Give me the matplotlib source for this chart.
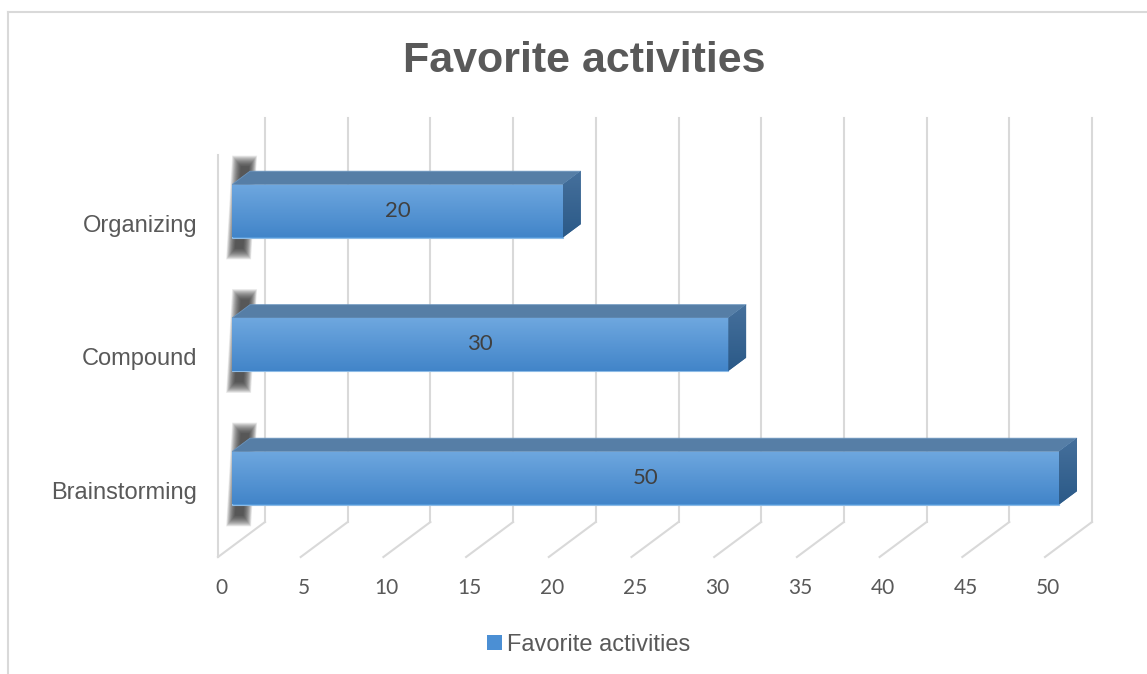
import numpy as np
import matplotlib.pyplot as plt
from matplotlib.patches import Polygon, Patch
from matplotlib.lines import Line2D
from matplotlib.colors import LinearSegmentedColormap

# Data
categories = ['Brainstorming', 'Compound', 'Organizing']
values = [50, 30, 20]
ticks = list(range(0, 55, 5))
series_name = 'Favorite activities'
title = 'Favorite activities'

W, H = 1147, 674
fig = plt.figure(figsize=(W / 100, H / 100), dpi=100)
ax = fig.add_axes([0, 0, 1, 1])
ax.set_axis_off()

# scale: pixels per value unit / per category, origin of the front floor
px_x = 16.54
px_y = 133.5
x0_px, y0_px = 218, 488.5
xlim = (-x0_px / px_x, (W - x0_px) / px_x)
ylim = ((y0_px - H) / px_y, y0_px / px_y)

# depth of the 3D box, in data units
depth_x = 47 / px_x
depth_y = 35 / px_y
floor_y = -(557 - y0_px) / px_y      # front edge of the floor
wall_top = (y0_px - 118) / px_y      # top of the back wall
side_top = (y0_px - 155) / px_y      # top of the left wall

grid_col = '#d9d9d9'
text_col = '#595959'

# back wall gridlines + floor diagonals
for t in ticks:
    ax.plot([t + depth_x, t + depth_x], [floor_y + depth_y, wall_top], color=grid_col, lw=1.5, zorder=1)
    ax.plot([t, t + depth_x], [floor_y, floor_y + depth_y], color=grid_col, lw=1.5, zorder=1)
    ax.text(t + 0.2, floor_y - 0.23, str(t), ha='center', va='center', fontsize=15,
            family='Lato', color=text_col)
# left wall front edge
ax.plot([0, 0], [floor_y, side_top], color=grid_col, lw=1.5, zorder=1)


def gradient_fill(patch, c_top, c_bot, extent, z):
    grad = np.linspace(0, 1, 64).reshape(-1, 1)
    cmap = LinearSegmentedColormap.from_list('g', [c_top, c_bot])
    im = ax.imshow(grad, cmap=cmap, extent=extent, aspect='auto', origin='upper',
                   zorder=z, interpolation='bicubic')
    im.set_clip_path(patch)


def shadow(left, bottom, top):
    # soft shadow behind the left end of a bar: stacked translucent layers
    hgt = (top - bottom) * px_y
    n = 22
    for k in range(n):
        f = k / (n - 1)
        u0 = -6 + 9 * f
        u1 = 19 - 8 * f
        y0 = -22 + 11 * f
        y1 = hgt + 29 - 11 * f
        pts = [(u0, y0), (u1, y0), (u1 + 6, y1), (u0 + 6, y1)]
        pts = [(left + a / px_x, bottom + c / px_y) for a, c in pts]
        ax.add_patch(Polygon(pts, closed=True, facecolor='#2e2e2e', edgecolor='none',
                             alpha=0.065, zorder=2))


# bars
bar_h = 53 / px_y
front_dx, front_dy = 0.30 * depth_x, 0.30 * depth_y
top_dx, top_dy = 0.38 * depth_x, 0.38 * depth_y
y_pos = np.arange(len(categories))

bars = ax.barh(y_pos + front_dy, values, height=bar_h, left=front_dx,
               color='#5096d8', edgecolor='#8dbbe6', linewidth=0.8, zorder=4)

for rect, v, i in zip(bars, values, y_pos):
    l, b = rect.get_x(), rect.get_y()
    w, h = rect.get_width(), rect.get_height()
    r, t = l + w, b + h
    shadow(l, b, t)
    gradient_fill(rect, '#6ea7df', '#4285c9', (l, r, b, t), 4.5)
    top_face = Polygon([(l, t), (l + top_dx, t + top_dy), (r + top_dx, t + top_dy), (r, t)],
                       closed=True, facecolor='#567ea6', edgecolor='#6b95bf', lw=0.6, zorder=4)
    ax.add_patch(top_face)
    side = Polygon([(r, b), (r, t), (r + top_dx, t + top_dy), (r + top_dx, b + top_dy)],
                   closed=True, facecolor='#3a6794', edgecolor='none', zorder=4)
    ax.add_patch(side)
    gradient_fill(side, '#46709c', '#2b5a88', (r, r + top_dx, b, t + top_dy), 4.6)
    ax.text(l + w / 2, b + h / 2, str(v), ha='center', va='center', fontsize=16,
            family='Lato', color='#404040', zorder=6)
    ax.text(-21 / px_x, i - 0.03, categories[i], ha='right', va='center', fontsize=17,
            family='Liberation Sans', color=text_col)

ax.set_xlim(*xlim)
ax.set_ylim(*ylim)

# title
fig.text(584 / W, 1 - 61 / H, title, ha='center', va='center', fontsize=31,
         fontweight='bold', family='Liberation Sans', color=text_col)

# legend
handle = Patch(facecolor='#4b8fd4', edgecolor='none')
fig.legend([handle], [series_name], loc='center', bbox_to_anchor=(589 / W, 1 - 645 / H),
           frameon=False, handlelength=0.6, handleheight=0.6, handletextpad=0.25,
           prop={'family': 'Liberation Sans', 'size': 17}, labelcolor=text_col)

# chart frame
fig.add_artist(Line2D([8 / W, 8 / W], [0, 1 - 12 / H], color=grid_col, lw=1.5))
fig.add_artist(Line2D([8 / W, 1], [1 - 12 / H, 1 - 12 / H], color=grid_col, lw=1.5))

fig.savefig('out.png', dpi=100, facecolor='white')
